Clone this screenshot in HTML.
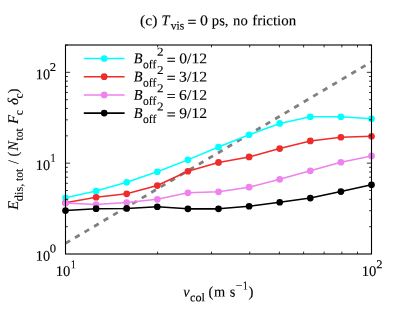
<!DOCTYPE html>
<html><head><meta charset="utf-8"><title>chart</title>
<style>html,body{margin:0;padding:0;background:#fff;}svg{display:block;will-change:transform;}svg text{text-rendering:geometricPrecision;stroke:#000;stroke-width:0.12px;stroke-linejoin:round;}</style>
</head><body>
<svg width="399" height="318" viewBox="0 0 399 318" font-family="Liberation Serif, serif" font-size="14.80" fill="#000">
<rect x="0" y="0" width="399" height="318" fill="#fff"/>
<defs><clipPath id="cp"><rect x="65.50" y="45.00" width="306.00" height="209.00"/></clipPath></defs>
<line x1="65.50" y1="243.40" x2="371.50" y2="61.80" stroke="#808080" stroke-width="2.8" stroke-dasharray="5.35 5.73" clip-path="url(#cp)"/>
<polyline points="65.50,197.85 96.10,191.05 126.70,182.35 157.30,171.75 187.90,159.85 218.50,147.05 249.10,134.75 279.70,123.45 310.30,116.75 340.90,116.75 371.50,118.75" fill="none" stroke="#00ffff" stroke-width="1.55" stroke-linejoin="round"/>
<circle cx="65.50" cy="197.85" r="3.35" fill="#00ffff"/>
<circle cx="96.10" cy="191.05" r="3.35" fill="#00ffff"/>
<circle cx="126.70" cy="182.35" r="3.35" fill="#00ffff"/>
<circle cx="157.30" cy="171.75" r="3.35" fill="#00ffff"/>
<circle cx="187.90" cy="159.85" r="3.35" fill="#00ffff"/>
<circle cx="218.50" cy="147.05" r="3.35" fill="#00ffff"/>
<circle cx="249.10" cy="134.75" r="3.35" fill="#00ffff"/>
<circle cx="279.70" cy="123.45" r="3.35" fill="#00ffff"/>
<circle cx="310.30" cy="116.75" r="3.35" fill="#00ffff"/>
<circle cx="340.90" cy="116.75" r="3.35" fill="#00ffff"/>
<circle cx="371.50" cy="118.75" r="3.35" fill="#00ffff"/>
<polyline points="65.50,202.75 96.10,197.25 126.70,193.85 157.30,185.55 187.90,171.25 218.50,162.45 249.10,156.95 279.70,148.55 310.30,140.95 340.90,137.25 371.50,136.25" fill="none" stroke="#ee2c2c" stroke-width="1.55" stroke-linejoin="round"/>
<circle cx="65.50" cy="202.75" r="3.35" fill="#ee2c2c"/>
<circle cx="96.10" cy="197.25" r="3.35" fill="#ee2c2c"/>
<circle cx="126.70" cy="193.85" r="3.35" fill="#ee2c2c"/>
<circle cx="157.30" cy="185.55" r="3.35" fill="#ee2c2c"/>
<circle cx="187.90" cy="171.25" r="3.35" fill="#ee2c2c"/>
<circle cx="218.50" cy="162.45" r="3.35" fill="#ee2c2c"/>
<circle cx="249.10" cy="156.95" r="3.35" fill="#ee2c2c"/>
<circle cx="279.70" cy="148.55" r="3.35" fill="#ee2c2c"/>
<circle cx="310.30" cy="140.95" r="3.35" fill="#ee2c2c"/>
<circle cx="340.90" cy="137.25" r="3.35" fill="#ee2c2c"/>
<circle cx="371.50" cy="136.25" r="3.35" fill="#ee2c2c"/>
<polyline points="65.50,203.05 96.10,204.55 126.70,202.55 157.30,199.35 187.90,192.85 218.50,191.85 249.10,187.15 279.70,179.35 310.30,170.85 340.90,162.25 371.50,155.95" fill="none" stroke="#ee82ee" stroke-width="1.55" stroke-linejoin="round"/>
<circle cx="65.50" cy="203.05" r="3.35" fill="#ee82ee"/>
<circle cx="96.10" cy="204.55" r="3.35" fill="#ee82ee"/>
<circle cx="126.70" cy="202.55" r="3.35" fill="#ee82ee"/>
<circle cx="157.30" cy="199.35" r="3.35" fill="#ee82ee"/>
<circle cx="187.90" cy="192.85" r="3.35" fill="#ee82ee"/>
<circle cx="218.50" cy="191.85" r="3.35" fill="#ee82ee"/>
<circle cx="249.10" cy="187.15" r="3.35" fill="#ee82ee"/>
<circle cx="279.70" cy="179.35" r="3.35" fill="#ee82ee"/>
<circle cx="310.30" cy="170.85" r="3.35" fill="#ee82ee"/>
<circle cx="340.90" cy="162.25" r="3.35" fill="#ee82ee"/>
<circle cx="371.50" cy="155.95" r="3.35" fill="#ee82ee"/>
<polyline points="65.50,210.55 96.10,208.65 126.70,208.45 157.30,206.75 187.90,208.85 218.50,208.85 249.10,206.25 279.70,202.25 310.30,198.05 340.90,191.55 371.50,184.85" fill="none" stroke="#000000" stroke-width="1.55" stroke-linejoin="round"/>
<circle cx="65.50" cy="210.55" r="3.35" fill="#000000"/>
<circle cx="96.10" cy="208.65" r="3.35" fill="#000000"/>
<circle cx="126.70" cy="208.45" r="3.35" fill="#000000"/>
<circle cx="157.30" cy="206.75" r="3.35" fill="#000000"/>
<circle cx="187.90" cy="208.85" r="3.35" fill="#000000"/>
<circle cx="218.50" cy="208.85" r="3.35" fill="#000000"/>
<circle cx="249.10" cy="206.25" r="3.35" fill="#000000"/>
<circle cx="279.70" cy="202.25" r="3.35" fill="#000000"/>
<circle cx="310.30" cy="198.05" r="3.35" fill="#000000"/>
<circle cx="340.90" cy="191.55" r="3.35" fill="#000000"/>
<circle cx="371.50" cy="184.85" r="3.35" fill="#000000"/>
<path d="M65.50 226.66L67.90 226.66 M371.50 226.66L369.10 226.66 M65.50 210.66L67.90 210.66 M371.50 210.66L369.10 210.66 M65.50 199.32L67.90 199.32 M371.50 199.32L369.10 199.32 M65.50 190.51L67.90 190.51 M371.50 190.51L369.10 190.51 M65.50 183.32L67.90 183.32 M371.50 183.32L369.10 183.32 M65.50 177.24L67.90 177.24 M371.50 177.24L369.10 177.24 M65.50 171.97L67.90 171.97 M371.50 171.97L369.10 171.97 M65.50 167.33L67.90 167.33 M371.50 167.33L369.10 167.33 M65.50 163.17L70.10 163.17 M371.50 163.17L366.90 163.17 M65.50 135.83L67.90 135.83 M371.50 135.83L369.10 135.83 M65.50 119.83L67.90 119.83 M371.50 119.83L369.10 119.83 M65.50 108.49L67.90 108.49 M371.50 108.49L369.10 108.49 M65.50 99.68L67.90 99.68 M371.50 99.68L369.10 99.68 M65.50 92.49L67.90 92.49 M371.50 92.49L369.10 92.49 M65.50 86.41L67.90 86.41 M371.50 86.41L369.10 86.41 M65.50 81.14L67.90 81.14 M371.50 81.14L369.10 81.14 M65.50 76.50L67.90 76.50 M371.50 76.50L369.10 76.50 M65.50 72.34L70.10 72.34 M371.50 72.34L366.90 72.34 M65.50 45.00L67.90 45.00 M371.50 45.00L369.10 45.00 M157.62 254.00L157.62 251.60 M157.62 45.00L157.62 47.40 M211.50 254.00L211.50 251.60 M211.50 45.00L211.50 47.40 M249.73 254.00L249.73 251.60 M249.73 45.00L249.73 47.40 M279.38 254.00L279.38 251.60 M279.38 45.00L279.38 47.40 M303.61 254.00L303.61 251.60 M303.61 45.00L303.61 47.40 M324.10 254.00L324.10 251.60 M324.10 45.00L324.10 47.40 M341.85 254.00L341.85 251.60 M341.85 45.00L341.85 47.40 M357.50 254.00L357.50 251.60 M357.50 45.00L357.50 47.40" stroke="#000" stroke-width="0.8" fill="none"/>
<rect x="65.50" y="45.00" width="306.00" height="209.00" fill="none" stroke="#000" stroke-width="1.1"/>
<text transform="translate(140.12,25.30) matrix(1.051,0.002,0,1,0,0)">(c)</text>
<text transform="translate(161.61,25.30) matrix(0.970,0.002,0,1,0,0)" font-style="italic">T</text>
<text transform="translate(170.70,29.60) matrix(0.970,0.002,0,1,0,0)" font-size="11.85">vis</text>
<text transform="translate(187.54,26.65) matrix(1.067,0.002,0,1,0,0)" style="stroke-width:0.25px">=</text>
<text transform="translate(200.05,25.30) matrix(1.080,0.002,0,1,0,0)">0</text>
<text transform="translate(211.86,25.30) matrix(0.988,0.002,0,1,0,0)">ps,</text>
<text transform="translate(233.06,25.30) matrix(0.993,0.002,0,1,0,0)">no</text>
<text transform="translate(252.24,25.30) matrix(1.007,0.002,0,1,0,0)">friction</text>
<text transform="translate(35.84,79.14) matrix(0.966,0.002,0,1,0,0)">10</text>
<text transform="translate(49.74,70.94) matrix(1.060,0.002,0,1,0,0)" font-size="11.95">2</text>
<text transform="translate(35.84,169.97) matrix(0.966,0.002,0,1,0,0)">10</text>
<text transform="translate(50.59,161.77) matrix(0.860,0.002,0,1,0,0)" font-size="11.95">1</text>
<text transform="translate(35.84,260.80) matrix(0.966,0.002,0,1,0,0)">10</text>
<text transform="translate(49.82,252.60) matrix(1.060,0.002,0,1,0,0)" font-size="11.95">0</text>
<text transform="translate(55.71,275.90) matrix(0.990,0.002,0,1,0,0)">10</text>
<text transform="translate(70.69,268.20) matrix(0.860,0.002,0,1,0,0)" font-size="11.95">1</text>
<text transform="translate(361.71,275.90) matrix(0.990,0.002,0,1,0,0)">10</text>
<text transform="translate(376.25,268.20) matrix(1.044,0.002,0,1,0,0)" font-size="11.95">2</text>
<text transform="translate(183.32,296.40) matrix(0.970,0.002,0,1,0,0)" font-style="italic">v</text>
<text transform="translate(190.04,301.20) matrix(1.030,0.002,0,1,0,0)" font-size="11.85">col</text>
<text transform="translate(208.58,296.40) matrix(0.970,0.002,0,1,0,0)">(</text>
<text transform="translate(214.08,296.40) matrix(0.970,0.002,0,1,0,0)">m</text>
<text transform="translate(229.71,296.40) matrix(0.974,0.002,0,1,0,0)">s</text>
<text transform="translate(235.80,289.50) matrix(1.007,0.002,0,1,0,0)" font-size="11.95">−</text>
<text transform="translate(242.84,289.50) matrix(0.860,0.002,0,1,0,0)" font-size="11.95">1</text>
<text transform="translate(248.62,296.40) matrix(1.000,0.002,0,1,0,0)">)</text>
<g transform="translate(0,260) rotate(-90)">
<text transform="translate(50.17,17.90) matrix(0.980,0.002,0,1,0,0)" font-style="italic">E</text>
<text transform="translate(58.85,22.80) matrix(1.044,0.002,0,1,0,0)" font-size="11.85">dis,</text>
<text transform="translate(79.09,22.80) matrix(0.974,0.002,0,1,0,0)" font-size="11.85">tot</text>
<text transform="translate(95.96,18.20) matrix(0.970,0.002,0,1,0,0)">/</text>
<text transform="translate(103.58,17.90) matrix(0.970,0.002,0,1,0,0)">(</text>
<text transform="translate(109.13,17.90) matrix(0.970,0.002,0,1,0,0)" font-style="italic">N</text>
<text transform="translate(119.49,22.80) matrix(0.974,0.002,0,1,0,0)" font-size="11.85">tot</text>
<text transform="translate(136.14,17.90) matrix(0.970,0.002,0,1,0,0)" font-style="italic">F</text>
<text transform="translate(144.66,22.80) matrix(0.970,0.002,0,1,0,0)" font-size="11.85">c</text>
<text transform="translate(155.06,17.90) matrix(1.024,0.002,0,1,0,0)" font-style="italic">δ</text>
<text transform="translate(161.41,22.80) matrix(0.970,0.002,0,1,0,0)" font-size="11.85">c</text>
<text transform="translate(166.52,17.90) matrix(1.000,0.002,0,1,0,0)">)</text>
</g>
<line x1="83.8" y1="58.50" x2="124.6" y2="58.50" stroke="#00ffff" stroke-width="1.55"/>
<circle cx="104.2" cy="58.50" r="3.35" fill="#00ffff"/>
<text transform="translate(133.86,63.30) matrix(0.970,0.002,0,1,0,0)" font-style="italic">B</text>
<text transform="translate(143.06,68.30) matrix(0.980,0.002,0,1,0,0)" font-size="11.85">off</text>
<text transform="translate(157.09,55.85) matrix(1.080,0.002,0,1,0,0)" font-size="12.15">2</text>
<text transform="translate(166.79,64.65) matrix(1.067,0.002,0,1,0,0)" style="stroke-width:0.25px">=</text>
<text transform="translate(179.20,63.30) matrix(1.059,0.002,0,1,0,0)">0/12</text>
<line x1="83.8" y1="76.70" x2="124.6" y2="76.70" stroke="#ee2c2c" stroke-width="1.55"/>
<circle cx="104.2" cy="76.70" r="3.35" fill="#ee2c2c"/>
<text transform="translate(133.86,81.50) matrix(0.970,0.002,0,1,0,0)" font-style="italic">B</text>
<text transform="translate(143.06,86.50) matrix(0.980,0.002,0,1,0,0)" font-size="11.85">off</text>
<text transform="translate(157.09,74.05) matrix(1.080,0.002,0,1,0,0)" font-size="12.15">2</text>
<text transform="translate(166.79,82.85) matrix(1.067,0.002,0,1,0,0)" style="stroke-width:0.25px">=</text>
<text transform="translate(179.05,81.50) matrix(1.065,0.002,0,1,0,0)">3/12</text>
<line x1="83.8" y1="94.90" x2="124.6" y2="94.90" stroke="#ee82ee" stroke-width="1.55"/>
<circle cx="104.2" cy="94.90" r="3.35" fill="#ee82ee"/>
<text transform="translate(133.86,99.70) matrix(0.970,0.002,0,1,0,0)" font-style="italic">B</text>
<text transform="translate(143.06,104.70) matrix(0.980,0.002,0,1,0,0)" font-size="11.85">off</text>
<text transform="translate(157.09,92.25) matrix(1.080,0.002,0,1,0,0)" font-size="12.15">2</text>
<text transform="translate(166.79,101.05) matrix(1.067,0.002,0,1,0,0)" style="stroke-width:0.25px">=</text>
<text transform="translate(179.12,99.70) matrix(1.062,0.002,0,1,0,0)">6/12</text>
<line x1="83.8" y1="113.10" x2="124.6" y2="113.10" stroke="#000000" stroke-width="1.55"/>
<circle cx="104.2" cy="113.10" r="3.35" fill="#000000"/>
<text transform="translate(133.86,117.90) matrix(0.970,0.002,0,1,0,0)" font-style="italic">B</text>
<text transform="translate(143.06,122.90) matrix(0.980,0.002,0,1,0,0)" font-size="11.85">off</text>
<text transform="translate(157.09,110.45) matrix(1.080,0.002,0,1,0,0)" font-size="12.15">2</text>
<text transform="translate(166.79,119.25) matrix(1.067,0.002,0,1,0,0)" style="stroke-width:0.25px">=</text>
<text transform="translate(179.30,117.90) matrix(1.055,0.002,0,1,0,0)">9/12</text>
</svg>
</body></html>
